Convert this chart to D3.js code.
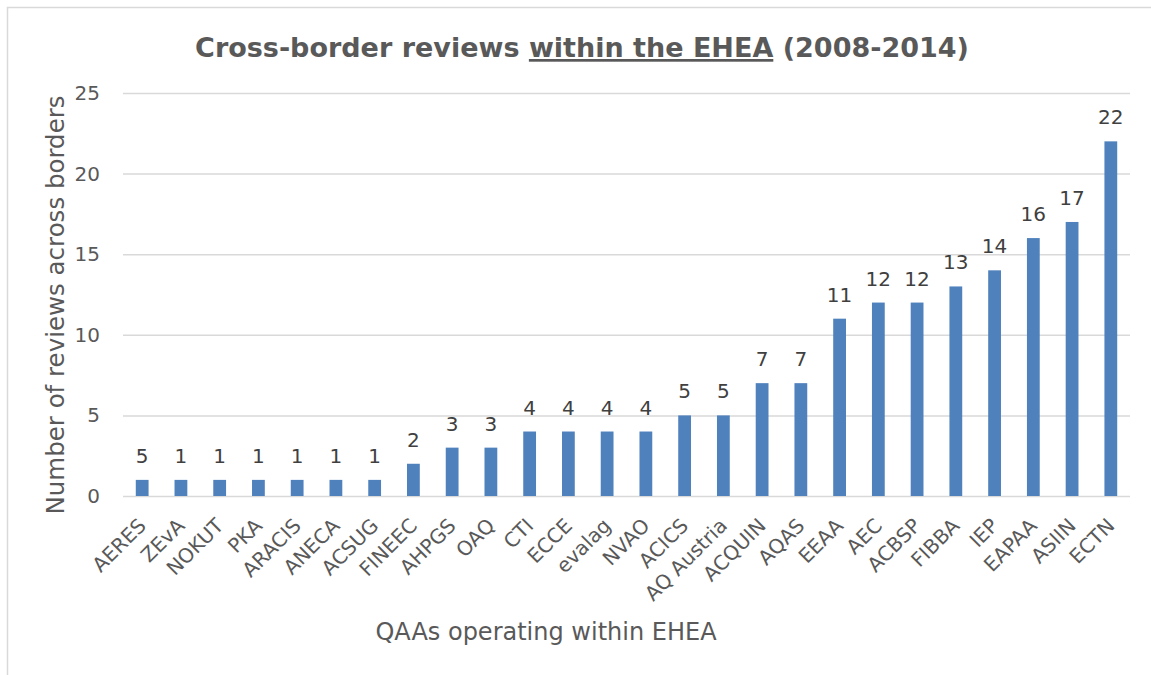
<!DOCTYPE html>
<html>
<head>
<meta charset="utf-8">
<script src="https://cdn.jsdelivr.net/npm/d3@7"></script>
<style>
  body { margin: 0; background: #fff; }
  text { font-family: "DejaVu Sans", Verdana, sans-serif; }
</style>
</head>
<body>
<svg width="1151" height="675"></svg>
<script>
const categories = ["AERES","ZEvA","NOKUT","PKA","ARACIS","ANECA","ACSUG","FINEEC","AHPGS","OAQ","CTI","ECCE","evalag","NVAO","ACICS","AQ Austria","ACQUIN","AQAS","EEAA","AEC","ACBSP","FIBBA","IEP","EAPAA","ASIIN","ECTN"]
const values = [1,1,1,1,1,1,1,2,3,3,4,4,4,4,5,5,7,7,11,12,12,13,14,16,17,22]
// labels as printed on the chart (first one reads 5 in the source)
const valueLabels = ["5","1","1","1","1","1","1","2","3","3","4","4","4","4","5","5","7","7","11","12","12","13","14","16","17","22"]
const yTicks = [0,5,10,15,20,25]

const svg = d3.select("svg"),
    margin = {top: 93, right: 21, bottom: 179, left: 123},
    width = 1151 - margin.left - margin.right,
    height = 675 - margin.top - margin.bottom

// outer chart frame
svg.append("rect")
  .attr("x", 7.5).attr("y", 7.5)
  .attr("width", 1160).attr("height", 700)
  .attr("fill", "none").attr("stroke", "#d9d9d9").attr("stroke-width", 1.5)

const g = svg.append("g").attr("transform", `translate(${margin.left},${margin.top})`)

const x = d3.scaleBand()
          .domain(categories)
          .range([0, width])
          .paddingInner(0.67)
          .paddingOuter(0.33)
const y = d3.scaleLinear()
          .domain([0, 25])
          .range([height, 0])

// gridlines
g.append("g")
  .call(d3.axisLeft(y).tickValues(yTicks).tickSize(-width).tickFormat(""))
  .call(a => a.select(".domain").remove())
  .selectAll("line").attr("stroke", "#d9d9d9").attr("stroke-width", 1.5)

// y tick labels
g.append("g")
  .call(d3.axisLeft(y).tickValues(yTicks).tickSize(0).tickPadding(23))
  .call(a => a.select(".domain").remove())
  .selectAll("text")
    .attr("fill", "#595959").attr("font-size", "20px")
    .attr("font-family", "DejaVu Sans, sans-serif")

// bars
g.selectAll(".bar")
  .data(values)
  .join("rect")
    .attr("class", "bar")
    .attr("x", (d, i) => x(categories[i]))
    .attr("y", d => y(d))
    .attr("width", x.bandwidth())
    .attr("height", d => height - y(d))
    .attr("fill", "#4f81bd")

// data labels
g.selectAll(".lbl")
  .data(values)
  .join("text")
    .attr("class", "lbl")
    .attr("x", (d, i) => x(categories[i]) + x.bandwidth() / 2)
    .attr("y", d => y(d) - 17)
    .attr("text-anchor", "middle")
    .attr("fill", "#404040")
    .attr("font-size", "20px")
    .text((d, i) => valueLabels[i])

// x axis categories
const xAxis = g.append("g")
  .attr("transform", `translate(0,${height})`)
  .call(d3.axisBottom(x).tickSize(0).tickPadding(0))
xAxis.select(".domain").remove()
xAxis.selectAll("text")
  .attr("fill", "#595959").attr("font-size", "20px")
  .attr("font-family", "DejaVu Sans, sans-serif")
  .attr("text-anchor", "end")
  .attr("dy", "0.35em")
  .attr("transform", "translate(0,26) rotate(-45)")

// titles
const title = svg.append("text")
  .attr("x", 582).attr("y", 57)
  .attr("text-anchor", "middle")
  .attr("font-size", "27px").attr("font-weight", "bold")
  .attr("fill", "#595959")
title.append("tspan").text("Cross-border reviews ")
title.append("tspan").attr("text-decoration", "underline").text("within the EHEA")
title.append("tspan").text(" (2008-2014)")

svg.append("text")
  .attr("transform", `translate(64,305) rotate(-90)`)
  .attr("text-anchor", "middle")
  .attr("font-size", "24.5px").attr("fill", "#595959")
  .text("Number of reviews across borders")

svg.append("text")
  .attr("x", 546).attr("y", 640)
  .attr("text-anchor", "middle")
  .attr("font-size", "24px").attr("fill", "#595959")
  .text("QAAs operating within EHEA")
</script>
</body>
</html>
